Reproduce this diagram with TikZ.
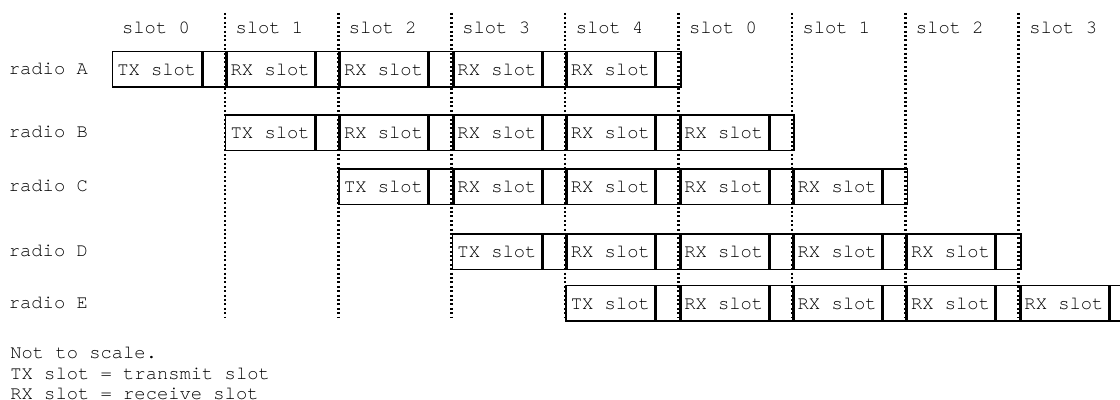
\documentclass[tikz,border=0pt]{standalone}
\usepackage{fontspec}
\setmonofont{TeX Gyre Cursor}
\usetikzlibrary{positioning}

\begin{document}
\begin{tikzpicture}[x=0.5pt,y=-0.5pt,font=\ttfamily\fontsize{9.4}{11}\selectfont,
  cell/.style={draw,line width=0.75pt,minimum width=44.5pt,minimum height=17.75pt,inner sep=0pt,anchor=north west},
  gap/.style={draw,line width=0.75pt,minimum width=12.2pt,minimum height=17.75pt,inner sep=0pt},
  guide/.style={line width=1.3pt,dash pattern=on 1pt off 1.2pt}]
\useasboundingbox (0,0) rectangle (1120,400);
% slot headers
\foreach \n [count=\i from 0] in {0,1,2,3,4,0,1,2,3}
  \node (h\i) at (111.5+113.4*\i+44.5,28) {slot \n};
% one row per radio, TX slot first
\foreach \r/\y [count=\k from 0] in {A/51,B/114.5,C/168.5,D/233.5,E/285} {
  \node[anchor=west,inner sep=0pt] (l\r) at (8.5,\y+17.75) {radio \r};
  \foreach \j in {0,...,4} {
    \pgfmathtruncatemacro\c{\k+\j}
    \ifnum\j=0 \def\lbl{TX slot}\else \def\lbl{RX slot}\fi
    \node[cell] (\r\j) at (111.5+113.4*\c,\y) {\lbl};
    \node[gap,right=0pt of \r\j.north east,anchor=north west] (\r g\j) {};
  }
}
% slot boundaries
\foreach \i in {1,...,8}
  \draw[guide] (111.5+113.4*\i,13) coordinate (t\i) -- (111.5+113.4*\i,317) coordinate (b\i);
% notes
\node[anchor=base west,inner sep=0pt] (n1) at (10,359) {Not to scale.};
\node[anchor=base west,inner sep=0pt] (n2) at (10,379.5) {TX slot = transmit slot};
\node[anchor=base west,inner sep=0pt] (n3) at (10,399.5) {RX slot = receive slot};
\end{tikzpicture}
\end{document}
